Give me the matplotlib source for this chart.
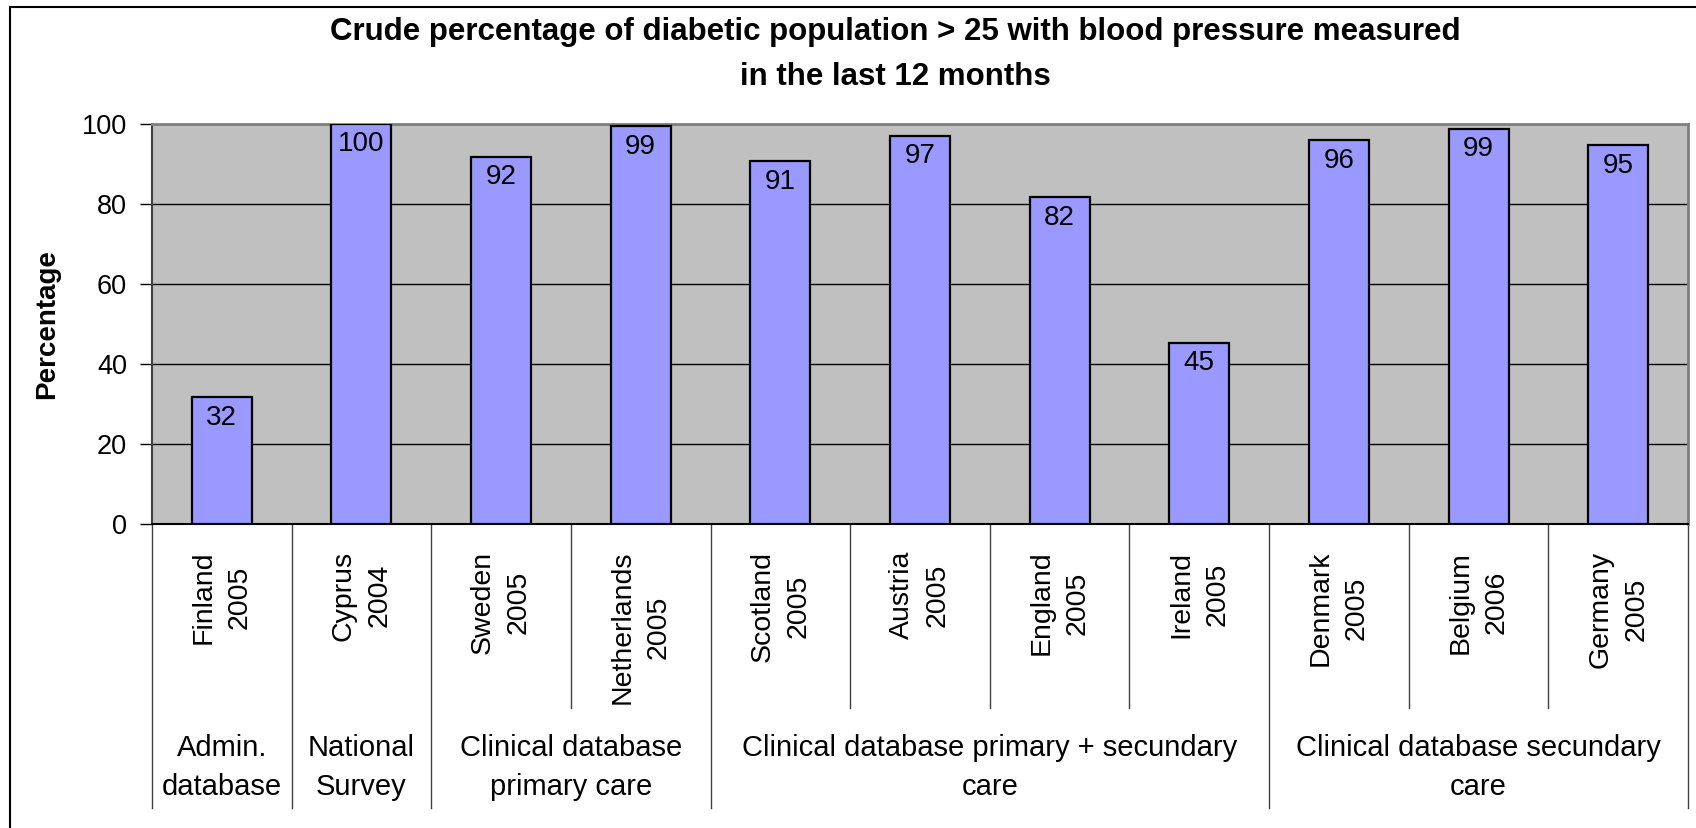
import matplotlib
matplotlib.use("Agg")
import matplotlib.pyplot as plt
import matplotlib.transforms as mtransforms
from matplotlib.patches import Rectangle
from matplotlib.lines import Line2D

plt.rcParams['font.family'] = ['Liberation Sans', 'DejaVu Sans']

# data
countries = ["Finland", "Cyprus", "Sweden", "Netherlands", "Scotland", "Austria",
             "England", "Ireland", "Denmark", "Belgium", "Germany"]
years = ["2005", "2004", "2005", "2005", "2005", "2005", "2005", "2005", "2005", "2006", "2005"]
values = [31.6, 100.0, 91.7, 99.3, 90.6, 97.0, 81.6, 45.3, 95.8, 98.7, 94.6]
group_names = ["Admin.\ndatabase", "National\nSurvey", "Clinical database\nprimary care",
               "Clinical database primary + secundary\ncare", "Clinical database secundary\ncare"]
group_sizes = [1, 1, 2, 4, 3]

W, H = 1696, 828
fig = plt.figure(figsize=(W / 100, H / 100 + 0.004), dpi=100)
fig.patch.set_facecolor('white')

# plot area in pixels: left 152, right 1688, top 124, bottom 524
ax = fig.add_axes([152 / W, 1 - 524 / H, (1688 - 152) / W, 400 / H])
ax.set_facecolor('#C0C0C0')

x = list(range(len(values)))
ax.bar(x, values, width=0.43, color='#9999FF', edgecolor='black', linewidth=1.6, zorder=3)
for xi, v in zip(x, values):
    ax.text(xi, v - 1.8, f"{v:.0f}", ha='center', va='top', fontsize=20, zorder=4)

ax.set_xlim(-0.5, len(values) - 0.5)
ax.set_ylim(0, 100)
ax.set_yticks(range(0, 101, 20))
ax.yaxis.grid(True, color='black', linewidth=1.0, zorder=0)
ax.tick_params(axis='y', labelsize=19.5, length=9, width=1, direction='out', pad=9)
ax.set_xticks([])
for side in ['top', 'right']:
    ax.spines[side].set_color('#808080')
    ax.spines[side].set_linewidth(2)
ax.spines['left'].set_color('#404040')
ax.spines['bottom'].set_color('black')
ax.spines['left'].set_linewidth(1.5)
ax.spines['bottom'].set_linewidth(1.5)

ax.set_ylabel("Percentage", fontsize=20, fontweight='bold')
ax.yaxis.set_label_coords(-(152 - 60) / 1536, 0.5)

# country / year labels under the bars
trans = mtransforms.blended_transform_factory(ax.transData, ax.transAxes)
for xi, c, yr in zip(x, countries, years):
    ax.annotate(f"{c}\n{yr}", xy=(xi, 0), xycoords=trans, xytext=(0, -19),
                textcoords='offset points', rotation=90, ha='center', va='top',
                multialignment='center', fontsize=20.5, linespacing=1.5)

# group labels and separator lines
start = 0
long_y = -284 / 400
short_y = -184 / 400
ax.add_line(Line2D([-0.5, -0.5], [0, long_y], transform=trans, color='#404040',
                   linewidth=1, clip_on=False))
for name, n in zip(group_names, group_sizes):
    end = start + n
    center = (start + end - 1) / 2
    ax.annotate(name, xy=(center, 0), xycoords=trans, xytext=(0, -175),
                textcoords='offset points', ha='center', va='center',
                multialignment='center', fontsize=21, linespacing=1.52)
    for b in range(start + 1, end):
        ax.add_line(Line2D([b - 0.5, b - 0.5], [0, short_y], transform=trans,
                           color='#404040', linewidth=1, clip_on=False))
    ax.add_line(Line2D([end - 0.5, end - 0.5], [0, long_y], transform=trans,
                       color='#404040', linewidth=1, clip_on=False))
    start = end

fig.text(895 / W, 1 - 54 / H,
         "Crude percentage of diabetic population > 25 with blood pressure measured\nin the last 12 months",
         ha='center', va='center', fontsize=22.5, fontweight='bold', linespacing=1.65)

# chart frame (cut off at right and bottom in the reference)
fig.add_artist(Rectangle((10 / W, -0.1), 2, 1.1 - 7 / H, transform=fig.transFigure,
                         fill=False, edgecolor='black', linewidth=1.5))

fig.savefig("out.png", dpi=100)
